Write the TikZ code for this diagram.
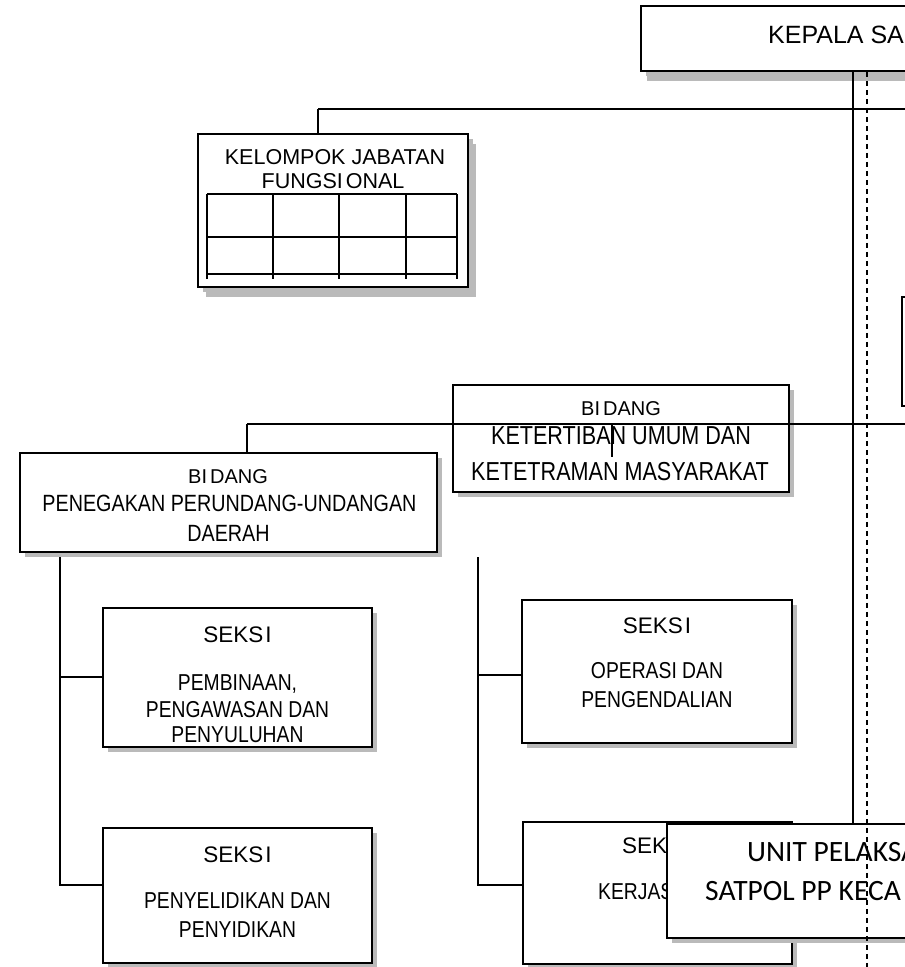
\documentclass[tikz,border=0pt]{standalone}
\usepackage{fontspec}
\usetikzlibrary{shadows}
\newfontfamily\fa{Liberation Sans}
\newfontfamily\fn[FakeStretch=0.84]{Liberation Sans}
\newfontfamily\fk[FakeStretch=0.83]{Liberation Sans}
\newfontfamily\fc{Carlito}
\tikzset{
  box/.style={draw, line width=1.8pt, fill=white, inner sep=0pt,
    drop shadow={shadow xshift=5pt, shadow yshift=-5pt, fill=black!27, opacity=1}},
  plainbox/.style={draw, line width=1.8pt, fill=white, inner sep=0pt},
  conn/.style={line width=1.5pt},
  grid/.style={line width=1.3pt},
  dline/.style={line width=2pt, dash pattern=on 5pt off 4pt},
  lbl/.style={inner sep=0pt, anchor=base, text=black},
  lblw/.style={inner sep=0pt, anchor=base west, text=black},
  tbid/.style={lbl, font={\fa\fontsize{20}{22}\selectfont}},
  tbig/.style={lbl, font={\fk\fontsize{26}{28}\selectfont}},
  tpen/.style={lbl, font={\fn\fontsize{23.5}{26}\selectfont}},
  tsek/.style={lbl, font={\fa\fontsize{22.5}{25}\selectfont}},
  tbody/.style={lbl, font={\fn\fontsize{23}{25}\selectfont}},
  tkel/.style={lbl, font={\fa\fontsize{21.5}{23}\selectfont}},
  tupt/.style={lblw, font={\fc\fontsize{29.5}{31}\selectfont}},
}
\begin{document}
\begin{tikzpicture}[x=1pt, y=-1pt]
\useasboundingbox (0,0) rectangle (905,967);
\clip (0,0) rectangle (905,967);
\fill[white] (0,0) rectangle (905,967);

% KEPALA
\node[box, drop shadow={shadow xshift=6pt, shadow yshift=-10pt, fill=black!27, opacity=1},
  minimum width=459pt, minimum height=65pt] (kepala) at (870.5,38.5) {};
\node[lblw, font={\fa\fontsize{25}{27}\selectfont}] (tkepala) at (768,43) {KEPALA SA};

% guide coordinates
\coordinate (vs) at (853,0);
\coordinate (vd) at (867,0);
\coordinate (h1) at (318,109);
\coordinate (h1e) at (910,109);
\coordinate (h2) at (247,424);
\coordinate (h2e) at (910,424);
\coordinate (tick) at (612,424);
\coordinate (tickend) at (612,457);

% kelompok jabatan fungsional
\node[box, drop shadow={shadow xshift=8pt, shadow yshift=-10pt, fill=black!27, opacity=1},
  minimum width=270pt, minimum height=153pt] (kelompok) at (333,210.5) {};
\node[tkel] (tk1) at (335,164) {KELOMPOK JABATAN};
\node[tkel] (tk2) at (333,188) {FUNGSI\kern3pt ONAL};
\draw[grid] (207,194) -- (457,194);
\draw[grid] (207,237) -- (457,237);
\draw[grid] (207,274) -- (457,274);
\foreach \gx in {207,273,339,406,457} \draw[grid] (\gx,194) -- (\gx,279);

\draw[conn] (h1) -- (h1e);
\draw[conn] (h1) -- (h1 |- kelompok.north);

% right partial box
\node[plainbox, minimum width=98pt, minimum height=109pt] (rbox) at (951,351.5) {};

% ketertiban
\node[box, minimum width=336pt, minimum height=107pt] (ketertiban) at (621,438.5) {};
\node[tbid] (tkt1) at (621,415) {BI\kern3pt DANG};
\node[tbig] (tkt2) at (621,444) {KETERTIBAN UMUM DAN};
\node[tbig] (tkt3) at (620,480) {KETETRAMAN MASYARAKAT};

% penegakan
\node[box, minimum width=417pt, minimum height=99pt] (penegakan) at (228.5,502.5) {};
\node[tbid] (tp1) at (228,483) {BI\kern3pt DANG};
\node[tpen] (tp2) at (229.5,511) {PENEGAKAN PERUNDANG-UNDANGAN};
\node[tpen] (tp3) at (228.5,541) {DAERAH};

\draw[conn] (h2) -- (h2e);
\draw[conn] (h2) -- (h2 |- penegakan.north);
\draw[conn] (tick) -- (tickend);

% seksi boxes left
\node[box, minimum width=269pt, minimum height=139pt] (pembinaan) at (237.5,677.5) {};
\node[tsek] (ts1) at (237.5,642) {SEKS\kern2pt I};
\node[tbody] (ts2) at (237.5,690) {PEMBINAAN,};
\node[tbody] (ts3) at (237.5,717) {PENGAWASAN DAN};
\node[tbody] (ts4) at (237.5,742) {PENYULUHAN};

\node[box, minimum width=269pt, minimum height=135pt] (penyelidikan) at (237.5,895.5) {};
\node[tsek] (tq1) at (237.5,862) {SEKS\kern2pt I};
\node[tbody] (tq2) at (237.5,908) {PENYELIDIKAN DAN};
\node[tbody] (tq3) at (237.5,937) {PENYIDIKAN};

\coordinate (l0) at (60,557);
\coordinate (l1) at (60,677);
\coordinate (l2) at (60,885);
\draw[conn] (l0) -- (l2) -- (l2 -| penyelidikan.west);
\draw[conn] (l1) -- (l1 -| pembinaan.west);

% seksi boxes middle
\node[box, minimum width=270pt, minimum height=143pt] (operasi) at (657,671.5) {};
\node[tsek] (to1) at (657,633) {SEKS\kern2pt I};
\node[tbody] (to2) at (657,678) {OPERASI DAN};
\node[tbody] (to3) at (657,707) {PENGENDALIAN};

\node[box, minimum width=269pt, minimum height=142pt] (kerjasama) at (657.5,893) {};
\node[lblw, font={\fa\fontsize{22.5}{25}\selectfont}] (tj1) at (622,853) {SEK};
\node[lblw, font={\fn\fontsize{23}{25}\selectfont}] (tj2) at (598,899) {KERJAS};

\coordinate (m0) at (478,557);
\coordinate (m1) at (478,675);
\coordinate (m2) at (478,885);
\draw[conn] (m0) -- (m2) -- (m2 -| kerjasama.west);
\draw[conn] (m1) -- (m1 -| operasi.west);

% UPT
\node[box, drop shadow={shadow xshift=6pt, shadow yshift=-5pt, fill=black!27, opacity=1},
  minimum width=333pt, minimum height=114pt] (upt) at (833.5,881) {};

% vertical lines
\draw[conn] (vs |- kepala.south) -- (vs |- upt.north);
\node[tupt] (tu1) at (747,861) {UNIT PELAKSA};
\node[tupt] (tu2) at (705,900) {SATPOL PP KECA};
\coordinate (vdend) at (867,975);
\draw[dline] (vd |- kepala.south) -- (vdend);
\end{tikzpicture}
\end{document}
